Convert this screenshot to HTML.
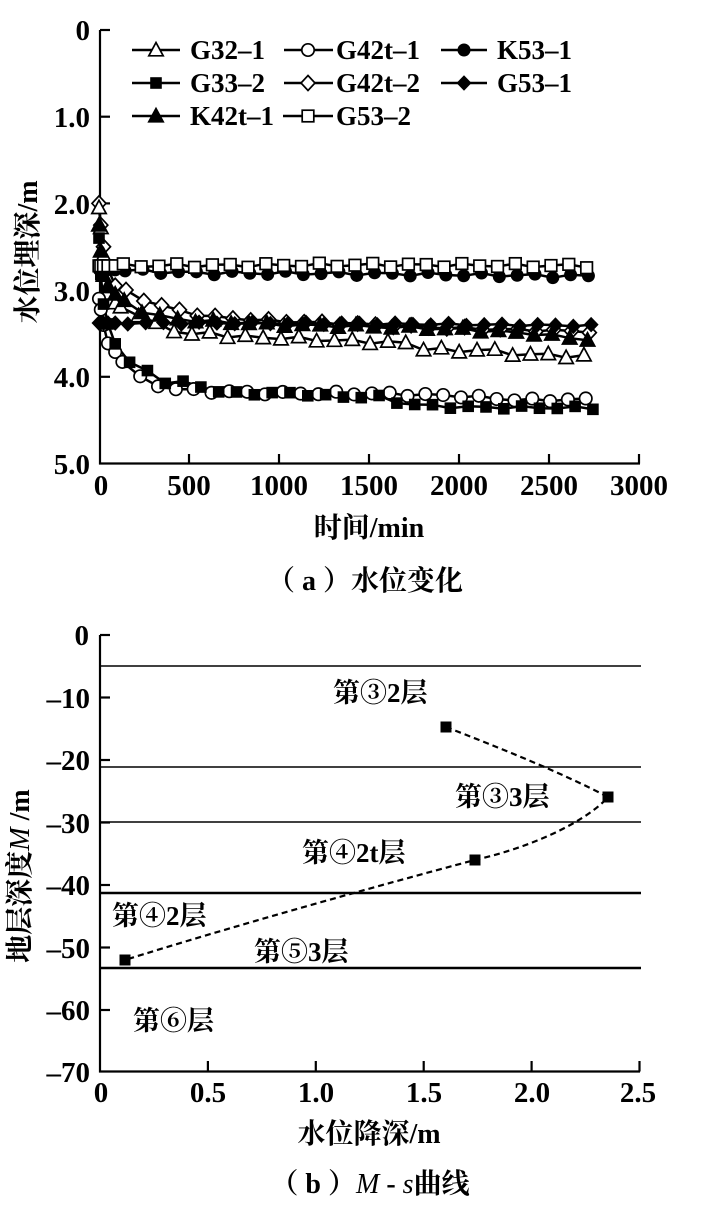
<!DOCTYPE html>
<html>
<head>
<meta charset="utf-8">
<style>
html,body{margin:0;padding:0;background:#fff;}
svg{display:block;}
.tk{font-family:"Liberation Serif","Noto Serif CJK SC",serif;font-weight:bold;font-size:29px;fill:#000;}
.lg{font-family:"Liberation Serif","Noto Serif CJK SC",serif;font-weight:bold;font-size:27px;fill:#000;}
.cj{font-family:"Liberation Serif","Noto Serif CJK SC",serif;font-weight:bold;font-size:28px;fill:#000;}
.ly{font-family:"Liberation Serif","Noto Serif CJK SC",serif;font-weight:bold;font-size:27px;fill:#000;}
</style>
</head>
<body>
<svg id="s" width="703" height="1220" viewBox="0 0 703 1220" xmlns="http://www.w3.org/2000/svg">
<rect width="703" height="1220" fill="#fff"/>

<!-- ===== Top chart axes ===== -->
<g stroke="#000" stroke-width="2.2" fill="none">
  <line x1="100" y1="30" x2="100" y2="464.5"/>
  <line x1="99" y1="463.5" x2="640" y2="463.5"/>
  <line x1="100" y1="30" x2="110" y2="30"/>
  <line x1="100" y1="116.7" x2="110" y2="116.7"/>
  <line x1="100" y1="203.4" x2="110" y2="203.4"/>
  <line x1="100" y1="290.1" x2="110" y2="290.1"/>
  <line x1="100" y1="376.8" x2="110" y2="376.8"/>
  <line x1="189" y1="463.5" x2="189" y2="454"/>
  <line x1="279" y1="463.5" x2="279" y2="454"/>
  <line x1="369" y1="463.5" x2="369" y2="454"/>
  <line x1="459" y1="463.5" x2="459" y2="454"/>
  <line x1="549" y1="463.5" x2="549" y2="454"/>
  <line x1="639" y1="463.5" x2="639" y2="454"/>
</g>
<g class="tk" text-anchor="end">
  <text x="90" y="40">0</text>
  <text x="90" y="127">1.0</text>
  <text x="90" y="214">2.0</text>
  <text x="90" y="301">3.0</text>
  <text x="90" y="387">4.0</text>
  <text x="90" y="474">5.0</text>
</g>
<g class="tk" text-anchor="middle">
  <text x="101" y="495">0</text>
  <text x="189" y="495">500</text>
  <text x="279" y="495">1000</text>
  <text x="369" y="495">1500</text>
  <text x="459" y="495">2000</text>
  <text x="549" y="495">2500</text>
  <text x="639" y="495">3000</text>
</g>
<text class="cj" transform="translate(37,252) rotate(-90)" text-anchor="middle">水位埋深/m</text>
<text class="cj" x="369" y="537" text-anchor="middle">时间/min</text>
<text class="cj" x="365" y="590" text-anchor="middle" xml:space="preserve">（ a ）水位变化</text>

<!-- legend -->
<g stroke="#000" stroke-width="2.4">
  <line x1="132" y1="50" x2="180" y2="50"/>
  <line x1="132" y1="83" x2="180" y2="83"/>
  <line x1="132" y1="116" x2="180" y2="116"/>
  <line x1="284" y1="50" x2="333" y2="50"/>
  <line x1="284" y1="83" x2="333" y2="83"/>
  <line x1="283" y1="116" x2="333" y2="116"/>
  <line x1="441" y1="50" x2="487" y2="50"/>
  <line x1="441" y1="83" x2="487" y2="83"/>
</g>
<g id="legm"></g>
<g class="lg">
  <text x="190" y="59">G32–1</text>
  <text x="190" y="92">G33–2</text>
  <text x="190" y="125">K42t–1</text>
  <text x="336" y="59">G42t–1</text>
  <text x="336" y="92">G42t–2</text>
  <text x="336" y="125">G53–2</text>
  <text x="497" y="59">K53–1</text>
  <text x="497" y="92">G53–1</text>
</g>

<g id="lines"></g>
<g id="marks"></g>

<!-- ===== Bottom chart ===== -->
<g stroke="#000" fill="none">
  <line x1="100" y1="666" x2="641" y2="666" stroke-width="1.5"/>
  <line x1="100" y1="767" x2="641" y2="767" stroke-width="1.5"/>
  <line x1="100" y1="822" x2="641" y2="822" stroke-width="1.5"/>
  <line x1="100" y1="893" x2="641" y2="893" stroke-width="2.6"/>
  <line x1="100" y1="968" x2="641" y2="968" stroke-width="2.6"/>
</g>
<g stroke="#000" stroke-width="2.2" fill="none">
  <line x1="100" y1="635" x2="100" y2="1072.5"/>
  <line x1="99" y1="1071.5" x2="640" y2="1071.5"/>
  <line x1="100" y1="635" x2="110" y2="635"/>
  <line x1="100" y1="697.5" x2="110" y2="697.5"/>
  <line x1="100" y1="760" x2="110" y2="760"/>
  <line x1="100" y1="822.5" x2="110" y2="822.5"/>
  <line x1="100" y1="885" x2="110" y2="885"/>
  <line x1="100" y1="947.5" x2="110" y2="947.5"/>
  <line x1="100" y1="1010" x2="110" y2="1010"/>
  <line x1="207.9" y1="1071.5" x2="207.9" y2="1061"/>
  <line x1="315.8" y1="1071.5" x2="315.8" y2="1061"/>
  <line x1="423.7" y1="1071.5" x2="423.7" y2="1061"/>
  <line x1="531.6" y1="1071.5" x2="531.6" y2="1061"/>
  <line x1="639.5" y1="1071.5" x2="639.5" y2="1061"/>
</g>
<g class="tk" text-anchor="end">
  <text x="89" y="645">0</text>
  <text x="90" y="708">–10</text>
  <text x="90" y="770">–20</text>
  <text x="90" y="833">–30</text>
  <text x="90" y="895">–40</text>
  <text x="90" y="958">–50</text>
  <text x="90" y="1020">–60</text>
  <text x="90" y="1082">–70</text>
</g>
<g class="tk" text-anchor="middle">
  <text x="101" y="1102">0</text>
  <text x="208" y="1102">0.5</text>
  <text x="316" y="1102">1.0</text>
  <text x="424" y="1102">1.5</text>
  <text x="532" y="1102">2.0</text>
  <text x="638" y="1102">2.5</text>
</g>
<text class="cj" transform="translate(29,876) rotate(-90)" text-anchor="middle" xml:space="preserve">地层深度<tspan font-style="italic" font-weight="normal">M</tspan> /m</text>
<text class="cj" x="369" y="1143" text-anchor="middle">水位降深/m</text>
<text class="cj" x="370" y="1193" text-anchor="middle" xml:space="preserve">（ b ）<tspan font-style="italic" font-weight="normal">M</tspan> - <tspan font-style="italic" font-weight="normal">s</tspan>曲线</text>

<g class="ly">
  <text x="333" y="702">第③2层</text>
  <text x="455" y="806">第③3层</text>
  <text x="302" y="862">第④2t层</text>
  <text x="112" y="925">第④2层</text>
  <text x="254" y="961">第⑤3层</text>
  <text x="133" y="1030">第⑥层</text>
</g>

<path d="M446,727 C500,748 560,772 608,797 C590,818 540,845 475,860 C380,885 220,930 125,960" fill="none" stroke="#000" stroke-width="2.2" stroke-dasharray="6,4"/>
<g fill="#000">
  <rect x="440.5" y="721.5" width="11" height="11"/>
  <rect x="602.5" y="791.5" width="11" height="11"/>
  <rect x="469.5" y="854.5" width="11" height="11"/>
  <rect x="119.5" y="954.5" width="11" height="11"/>
</g>
</svg>

<script>
(function(){
var NS="http://www.w3.org/2000/svg";
function el(tag,attrs,parent){var e=document.createElementNS(NS,tag);for(var k in attrs)e.setAttribute(k,attrs[k]);parent.appendChild(e);return e;}
var X=function(t){return 99+t*0.18;};
var Y=function(v){return 30+v*86.7;};
function interp(kp,t){
  if(t<=kp[0][0])return kp[0][1];
  for(var i=1;i<kp.length;i++){
    if(t<=kp[i][0]){var a=kp[i-1],b=kp[i];return a[1]+(b[1]-a[1])*(t-a[0])/(b[0]-a[0]);}
  }
  return kp[kp.length-1][1];
}
function marker(type,x,y,g){
  var s=1.7;
  switch(type){
    case "triO": el("polygon",{points:(x)+","+(y-7.5)+" "+(x-7.2)+","+(y+5.8)+" "+(x+7.2)+","+(y+5.8),fill:"#fff",stroke:"#000","stroke-width":s},g);break;
    case "triF": el("polygon",{points:(x)+","+(y-7.5)+" "+(x-7.2)+","+(y+5.8)+" "+(x+7.2)+","+(y+5.8),fill:"#000",stroke:"#000","stroke-width":s},g);break;
    case "cirO": el("circle",{cx:x,cy:y,r:6.2,fill:"#fff",stroke:"#000","stroke-width":s},g);break;
    case "cirF": el("circle",{cx:x,cy:y,r:6.5,fill:"#000"},g);break;
    case "sqO": el("rect",{x:x-5.8,y:y-5.8,width:11.6,height:11.6,fill:"#fff",stroke:"#000","stroke-width":s},g);break;
    case "sqF": el("rect",{x:x-5.8,y:y-5.8,width:11.6,height:11.6,fill:"#000"},g);break;
    case "diaO": el("polygon",{points:x+","+(y-7.5)+" "+(x+7)+","+y+" "+x+","+(y+7.5)+" "+(x-7)+","+y,fill:"#fff",stroke:"#000","stroke-width":s},g);break;
    case "diaF": el("polygon",{points:x+","+(y-7.8)+" "+(x+7.5)+","+y+" "+x+","+(y+7.8)+" "+(x-7.5)+","+y,fill:"#000"},g);break;
  }
}
var series=[
 {m:"diaO",off:30,j:0.01,kp:[[0,2.0],[10,2.25],[25,2.5],[50,2.75],[90,2.95],[139,3.0],[222,3.09],[322,3.17],[405,3.21],[505,3.27],[639,3.31],[778,3.33],[905,3.35],[1500,3.40],[2000,3.44],[2760,3.48]]},
 {m:"triO",off:0,j:0.015,kp:[[0,2.05],[10,2.28],[25,2.6],[50,2.95],[83,3.14],[183,3.25],[283,3.37],[389,3.44],[505,3.52],[628,3.49],[750,3.54],[1000,3.55],[1300,3.58],[1700,3.61],[1800,3.67],[2017,3.71],[2133,3.67],[2244,3.73],[2761,3.77]]},
 {m:"cirO",off:10,j:0.012,kp:[[0,3.10],[20,3.35],[44,3.6],[117,3.78],[180,3.95],[267,4.06],[361,4.12],[461,4.15],[650,4.17],[1000,4.19],[1500,4.19],[2000,4.22],[2350,4.27],[2760,4.26]]},
 {m:"sqF",off:50,j:0.012,kp:[[0,2.4],[8,2.75],[15,3.0],[33,3.29],[72,3.52],[117,3.77],[200,3.89],[267,3.92],[306,4.06],[500,4.07],[589,4.12],[694,4.19],[1100,4.19],[1300,4.23],[1550,4.23],[1672,4.30],[1800,4.33],[2017,4.35],[2760,4.36]]},
 {m:"triF",off:20,j:0.012,kp:[[0,2.25],[8,2.5],[20,2.8],[45,2.95],[75,3.02],[115,3.09],[180,3.19],[270,3.27],[330,3.30],[500,3.35],[1000,3.40],[1500,3.42],[2000,3.45],[2400,3.50],[2760,3.58]]},
 {m:"diaF",off:40,j:0.008,kp:[[0,3.38],[1000,3.38],[2760,3.41]]},
 {m:"cirF",off:25,j:0.015,kp:[[0,2.76],[500,2.80],[1500,2.81],[2760,2.84]]},
 {m:"sqO",off:15,j:0.015,kp:[[0,2.72],[1500,2.71],[2760,2.72]]}
];
var lines=document.getElementById("lines"),marks=document.getElementById("marks");
series.forEach(function(s,si){
  var ts=[0,10,25,50,90];
  for(var t=120+s.off;t<=2770;t+=99)ts.push(t);
  var pts=[];
  ts.forEach(function(t,i){
    var v=interp(s.kp,t);
    if(t>100)v+=s.j*Math.sin(i*2.3+si*1.7)*1.5;
    pts.push([X(t),Y(v)]);
  });
  el("polyline",{points:pts.map(function(p){return p[0].toFixed(1)+","+p[1].toFixed(1);}).join(" "),fill:"none",stroke:"#000","stroke-width":2.5},lines);
  s.pts=pts;
});
series.forEach(function(s){s.pts.forEach(function(p){marker(s.m,p[0],p[1],marks);});});
var lg=document.getElementById("legm");
marker("triO",156,50,lg);marker("sqF",156,83,lg);marker("triF",156,116,lg);
marker("cirO",308,50,lg);marker("diaO",308,83,lg);marker("sqO",308,116,lg);
marker("cirF",464,50,lg);marker("diaF",464,83,lg);
})();
</script>
</body>
</html>
